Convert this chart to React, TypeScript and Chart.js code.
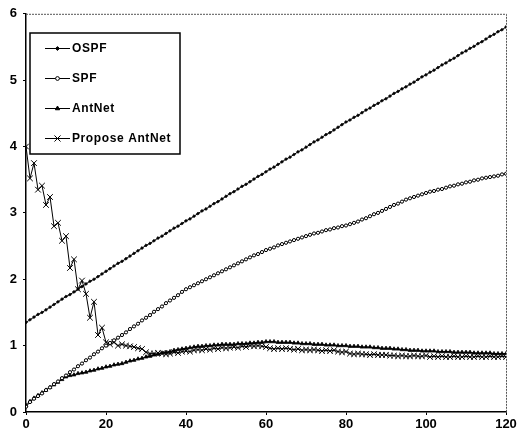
import React, { useEffect, useRef } from "react";
import { Chart, registerables } from "chart.js";
import { drawPoint } from "chart.js/helpers";

Chart.register(...registerables);

const xValues: number[] = [
  0,1,2,3,4,5,6,7,8,9,10,11,12,13,14,15,16,17,18,19,20,21,22,23,24,25,26,27,28,29,30,
  31,32,33,34,35,36,37,38,39,40,41,42,43,44,45,46,47,48,49,50,51,52,53,54,55,56,57,58,59,60,
  61,62,63,64,65,66,67,68,69,70,71,72,73,74,75,76,77,78,79,80,81,82,83,84,85,86,87,88,89,90,
  91,92,93,94,95,96,97,98,99,100,101,102,103,104,105,106,107,108,109,110,111,112,113,114,115,116,117,118,119,120,
];

const ospf: number[] = [
  1.35,1.39,1.43,1.47,1.50,1.54,1.58,1.62,1.66,1.70,1.74,
  1.77,1.81,1.85,1.89,1.93,1.97,2.00,2.04,2.08,2.12,
  2.16,2.20,2.24,2.27,2.31,2.35,2.39,2.43,2.47,2.51,
  2.54,2.58,2.62,2.65,2.69,2.73,2.77,2.80,2.84,2.88,
  2.91,2.95,2.99,3.03,3.06,3.10,3.14,3.17,3.21,3.25,
  3.29,3.32,3.36,3.40,3.43,3.47,3.51,3.55,3.58,3.62,
  3.66,3.69,3.73,3.77,3.81,3.84,3.88,3.92,3.95,3.99,
  4.03,4.07,4.10,4.14,4.18,4.21,4.25,4.29,4.33,4.37,
  4.40,4.44,4.47,4.51,4.55,4.58,4.62,4.65,4.69,4.72,
  4.76,4.80,4.83,4.87,4.90,4.94,4.97,5.01,5.05,5.08,
  5.12,5.15,5.19,5.23,5.26,5.30,5.33,5.37,5.41,5.44,
  5.48,5.51,5.55,5.58,5.62,5.66,5.69,5.73,5.76,5.80,
];

const spf: number[] = [
  0.08,0.15,0.20,0.24,0.28,0.33,0.37,0.42,0.46,0.51,0.55,
  0.60,0.64,0.69,0.73,0.78,0.82,0.87,0.91,0.96,1.00,
  1.04,1.08,1.12,1.16,1.20,1.25,1.29,1.33,1.38,1.42,
  1.46,1.51,1.55,1.59,1.64,1.68,1.72,1.76,1.81,1.85,
  1.88,1.91,1.94,1.97,2.00,2.03,2.06,2.09,2.12,2.15,
  2.18,2.21,2.24,2.27,2.30,2.33,2.36,2.38,2.41,2.44,
  2.46,2.48,2.51,2.53,2.55,2.57,2.59,2.61,2.63,2.65,
  2.67,2.69,2.70,2.72,2.74,2.75,2.77,2.78,2.80,2.81,
  2.83,2.85,2.87,2.90,2.92,2.95,2.98,3.00,3.03,3.06,
  3.09,3.12,3.14,3.17,3.20,3.22,3.24,3.26,3.28,3.30,
  3.32,3.33,3.35,3.36,3.38,3.40,3.41,3.43,3.44,3.46,
  3.47,3.49,3.50,3.52,3.53,3.54,3.55,3.56,3.58,3.59,
];

const antNet: number[] = [
  0.10,0.16,0.21,0.25,0.29,0.33,0.37,0.41,0.45,0.49,0.53,
  0.55,0.56,0.58,0.59,0.60,0.62,0.63,0.65,0.66,0.68,
  0.69,0.71,0.72,0.73,0.75,0.77,0.78,0.80,0.81,0.83,
  0.84,0.86,0.87,0.89,0.90,0.91,0.93,0.94,0.95,0.96,
  0.97,0.98,0.99,0.99,1.00,1.00,1.01,1.01,1.02,1.02,
  1.02,1.02,1.03,1.03,1.03,1.04,1.04,1.05,1.05,1.06,
  1.06,1.06,1.05,1.05,1.05,1.05,1.04,1.04,1.03,1.03,
  1.03,1.02,1.02,1.02,1.01,1.01,1.01,1.00,1.00,1.00,
  0.99,0.99,0.99,0.98,0.98,0.98,0.97,0.97,0.96,0.96,
  0.96,0.95,0.95,0.94,0.94,0.93,0.93,0.93,0.92,0.92,
  0.92,0.92,0.91,0.91,0.91,0.91,0.90,0.90,0.90,0.90,
  0.90,0.89,0.89,0.89,0.89,0.89,0.88,0.88,0.88,0.88,
];

const proposeAntNet: number[] = [
  4.00,3.52,3.75,3.35,3.41,3.12,3.24,2.80,2.85,2.58,2.65,
  2.17,2.30,1.85,1.98,1.78,1.42,1.66,1.16,1.27,1.05,
  1.02,1.05,1.00,1.02,1.00,0.99,0.98,0.96,0.95,0.90,
  0.88,0.88,0.89,0.88,0.87,0.88,0.90,0.89,0.91,0.92,
  0.91,0.93,0.94,0.93,0.95,0.94,0.96,0.95,0.97,0.96,
  0.97,0.98,0.97,0.99,0.98,1.00,0.99,1.00,0.99,0.98,
  0.96,0.95,0.96,0.95,0.96,0.95,0.94,0.95,0.93,0.94,
  0.93,0.94,0.93,0.92,0.93,0.92,0.93,0.91,0.90,0.91,
  0.88,0.87,0.88,0.87,0.87,0.86,0.87,0.86,0.86,0.86,
  0.85,0.85,0.84,0.85,0.84,0.84,0.85,0.84,0.84,0.85,
  0.83,0.84,0.83,0.84,0.83,0.83,0.84,0.83,0.83,0.84,
  0.83,0.83,0.84,0.83,0.83,0.84,0.83,0.83,0.84,0.83,
];

const seriesLabels: string[] = ["OSPF", "SPF", "AntNet", "Propose AntNet"];
const xTicks: number[] = [0, 20, 40, 60, 80, 100, 120];
const yTicks: number[] = [0, 1, 2, 3, 4, 5, 6];

const FONT = "'Liberation Sans', Arial, sans-serif";

const framePlugin = {
  id: "frameAndLegend",
  afterDraw(chart: any) {
    const ctx = chart.ctx;
    const a = chart.chartArea;
    ctx.save();
    ctx.strokeStyle = "#555";
    ctx.lineWidth = 1;
    ctx.setLineDash([2, 1]);
    ctx.beginPath();
    ctx.moveTo(a.left, a.top + 0.5);
    ctx.lineTo(a.right + 0.5, a.top + 0.5);
    ctx.lineTo(a.right + 0.5, a.bottom);
    ctx.stroke();
    ctx.setLineDash([]);

    const bx = 30, by = 33, bw = 150, bh = 121;
    ctx.fillStyle = "#fff";
    ctx.fillRect(bx, by, bw, bh);
    ctx.strokeStyle = "#000";
    ctx.lineWidth = 1.5;
    ctx.strokeRect(bx, by, bw, bh);

    const rows = [48, 78, 108, 138];
    chart.data.datasets.forEach((ds: any, i: number) => {
      const y = rows[i];
      ctx.strokeStyle = "#000";
      ctx.lineWidth = 1;
      ctx.beginPath();
      ctx.moveTo(45, y + 0.5);
      ctx.lineTo(70, y + 0.5);
      ctx.stroke();
      ctx.fillStyle = ds.pointBackgroundColor;
      ctx.strokeStyle = "#000";
      drawPoint(ctx, { pointStyle: ds.pointStyle, radius: ds.pointRadius + 0.3, borderWidth: 1, rotation: 0 }, 57.5, y + 0.5);
      ctx.fillStyle = "#000";
      ctx.font = `bold 12px ${FONT}`;
      ctx.textBaseline = "middle";
      ctx.textAlign = "left";
      (ctx as any).letterSpacing = "0.6px";
      ctx.fillText(ds.label, 72, y + 1);
      (ctx as any).letterSpacing = "0px";
    });
    ctx.restore();
  },
};

export default function App() {
  const ref = useRef<HTMLCanvasElement | null>(null);

  useEffect(() => {
    if (!ref.current) return;
    const mk = (vals: number[]) => xValues.map((x, i) => ({ x, y: vals[i] }));
    const chart = new Chart(ref.current, {
      type: "line",
      data: {
        datasets: [
          {
            label: seriesLabels[0],
            data: mk(ospf),
            borderColor: "#000",
            borderWidth: 1,
            pointStyle: "rectRot",
            pointRadius: 1.6,
            pointBackgroundColor: "#000",
            pointBorderColor: "#000",
            pointBorderWidth: 0.6,
          },
          {
            label: seriesLabels[1],
            data: mk(spf),
            borderColor: "#000",
            borderWidth: 1,
            pointStyle: "circle",
            pointRadius: 1.6,
            pointBackgroundColor: "#fff",
            pointBorderColor: "#000",
            pointBorderWidth: 1,
          },
          {
            label: seriesLabels[2],
            data: mk(antNet),
            borderColor: "#000",
            borderWidth: 1,
            pointStyle: "triangle",
            pointRadius: 2.2,
            pointBackgroundColor: "#000",
            pointBorderColor: "#000",
            pointBorderWidth: 0.8,
          },
          {
            label: seriesLabels[3],
            data: mk(proposeAntNet),
            borderColor: "#000",
            borderWidth: 1,
            pointStyle: "crossRot",
            pointRadius: 4,
            pointBackgroundColor: "#000",
            pointBorderColor: "#000",
            pointBorderWidth: 1,
          },
        ],
      },
      options: {
        responsive: false,
        animation: false,
        events: [],
        layout: { padding: { top: 12, right: 18, left: 0, bottom: 0 } },
        plugins: { legend: { display: false }, tooltip: { enabled: false } },
        scales: {
          x: {
            type: "linear",
            min: 0,
            max: 120,
            afterBuildTicks: (s: any) => {
              s.ticks = xTicks.map((v) => ({ value: v }));
            },
            afterFit: (s: any) => {
              s.height = 22;
            },
            grid: { display: true, drawOnChartArea: false, tickLength: 3, color: "#000" },
            border: { display: true, color: "#000", width: 1.5 },
            ticks: {
              color: "#000",
              padding: 2,
              maxRotation: 0,
              font: { family: FONT, size: 13, weight: "bold" },
            },
          },
          y: {
            type: "linear",
            min: 0,
            max: 6,
            afterBuildTicks: (s: any) => {
              s.ticks = yTicks.map((v) => ({ value: v }));
            },
            afterFit: (s: any) => {
              s.width = 26;
            },
            grid: { display: true, drawOnChartArea: false, tickLength: 3, color: "#000" },
            border: { display: true, color: "#000", width: 1.5 },
            ticks: {
              color: "#000",
              padding: 6,
              font: { family: FONT, size: 13, weight: "bold" },
            },
          },
        },
      },
      plugins: [framePlugin],
    });
    return () => chart.destroy();
  }, []);

  return (
    <div style={{ position: "fixed", left: 0, top: 0, width: 524, height: 434, background: "#fff" }}>
      <canvas ref={ref} width={524} height={434} style={{ display: "block" }} />
    </div>
  );
}
